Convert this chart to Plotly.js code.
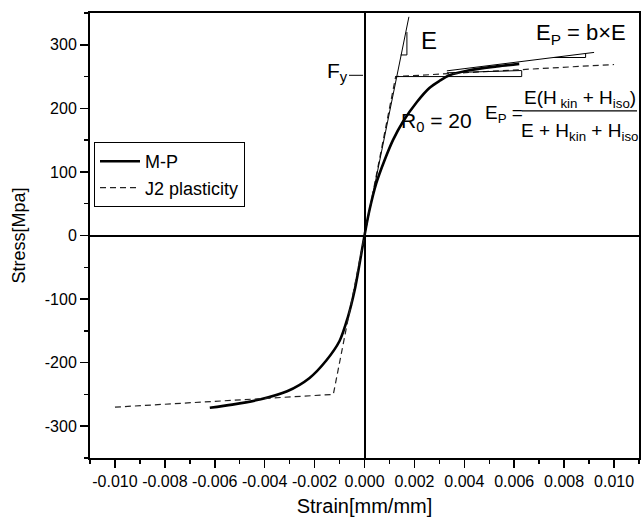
<!DOCTYPE html>
<html>
<head>
<meta charset="utf-8">
<script src="https://cdn.plot.ly/plotly-3.0.1.min.js"></script>
<style>html,body{margin:0;padding:0;background:#fff;}#chart{width:644px;height:517px;}</style>
</head>
<body>
<div id="chart"></div>
<script>
// M-P curve
const mpStrain = [-0.0062, -0.0053, -0.0042, -0.0031, -0.0022, -0.00154, -0.0010, -0.00067, -0.0004, -0.0002, 0,
                  0.0002, 0.00047, 0.0008, 0.00114, 0.00154, 0.0021, 0.0026, 0.0030, 0.0034, 0.0042, 0.0053, 0.0062];
const mpStress = [-271, -266, -258, -245, -224, -197, -166, -129, -87, -45, 0,
                  40, 82, 118, 150, 179, 210, 232, 243, 252, 260, 266, 270];
// J2 plasticity (bilinear)
const j2Strain = [-0.010, -0.00125, 0.00125, 0.010];
const j2Stress = [-270, -250, 250, 269];
// thin construction lines (null separates segments)
const guideStrain = [0, 0.00178, null,
                     0.00145, 0.0017, 0.0017, null,
                     0.00125, 0.0063, 0.0063, null,
                     0.0033, 0.0063, null,
                     0.0033, 0.0092, null,
                     0.0076, 0.00886, 0.00886, null,
                     -0.00062, -0.00006];
const guideStress = [0, 344, null,
                     284, 284, 320, null,
                     250, 250, 259, null,
                     256, 259.5, null,
                     259, 288, null,
                     280, 280, 286, null,
                     252, 252];
// fraction bar of the E_P formula
const barStrain = [0.0063, 0.01092];
const barStress = [196, 196];

const xTickVals = [-0.010, -0.008, -0.006, -0.004, -0.002, 0, 0.002, 0.004, 0.006, 0.008, 0.010];
const xTickText = ['-0.010', '-0.008', '-0.006', '-0.004', '-0.002', '0.000', '0.002', '0.004', '0.006', '0.008', '0.010'];
const yTickVals = [-300, -200, -100, 0, 100, 200, 300];
const yTickText = ['-300', '-200', '-100', '0', '100', '200', '300'];

const FONT = 'Liberation Sans, Arial, Helvetica, sans-serif';

const traces = [
  {x: mpStrain, y: mpStress, mode: 'lines', name: 'M-P',
   line: {color: '#000', width: 2.6, shape: 'spline', smoothing: 0.8}},
  {x: j2Strain, y: j2Stress, mode: 'lines', name: 'J2 plasticity',
   line: {color: '#222', width: 1.2, dash: '6px,4px'}},
  {x: guideStrain, y: guideStress, mode: 'lines', showlegend: false, connectgaps: false,
   line: {color: '#000', width: 1}},
  {x: barStrain, y: barStress, mode: 'lines', showlegend: false,
   line: {color: '#000', width: 1.2}}
];

const ann = (x, y, text, size) => ({x: x, y: y, xref: 'x', yref: 'y', text: text, showarrow: false,
  font: {family: FONT, size: size, color: '#000'}, xanchor: 'center', yanchor: 'middle'});

const layout = {
  width: 644, height: 517,
  margin: {l: 90, r: 5, t: 13, b: 59},
  paper_bgcolor: '#fff', plot_bgcolor: '#fff',
  font: {family: FONT, color: '#000'},
  showlegend: true,
  legend: {x: 0.0073, y: 0.71, xanchor: 'left', yanchor: 'top',
           bordercolor: '#000', borderwidth: 1, bgcolor: '#fff',
           font: {family: FONT, size: 18, color: '#000'},
           tracegroupgap: 0, itemwidth: 40},
  xaxis: {range: [-0.011, 0.011], tickvals: xTickVals, ticktext: xTickText,
          ticks: 'outside', ticklen: 8, tickwidth: 1.5, tickcolor: '#000',
          minor: {ticks: 'outside', ticklen: 4, tickwidth: 1.5, tickcolor: '#000', dtick: 0.001, tick0: 0, showgrid: false},
          showline: true, linecolor: '#000', linewidth: 2, mirror: true,
          showgrid: false, zeroline: true, zerolinecolor: '#000', zerolinewidth: 2,
          tickfont: {family: FONT, size: 16, color: '#000'},
          title: {text: 'Strain[mm/mm]', font: {family: FONT, size: 20, color: '#000'}, standoff: 10}},
  yaxis: {range: [-350, 350], tickvals: yTickVals, ticktext: yTickText,
          ticks: 'outside', ticklen: 8, tickwidth: 1.5, tickcolor: '#000',
          minor: {ticks: 'outside', ticklen: 4, tickwidth: 1.5, tickcolor: '#000', dtick: 50, tick0: 0, showgrid: false},
          showline: true, linecolor: '#000', linewidth: 2, mirror: true,
          showgrid: false, zeroline: true, zerolinecolor: '#000', zerolinewidth: 2,
          tickfont: {family: FONT, size: 16, color: '#000'},
          title: {text: 'Stress[Mpa]', font: {family: FONT, size: 18, color: '#000'}, standoff: 14}},
  annotations: [
    ann(0.0026, 307, 'E', 24),
    ann(0.00866, 317, 'E<sub>P</sub> = b×E', 22),
    ann(-0.0011, 257, 'F<sub>y</sub>', 21),
    ann(0.0029, 179, 'R<sub>0</sub> = 20', 21),
    ann(0.0056, 191, 'E<sub>P</sub> =', 19),
    ann(0.00862, 214, 'E(H<sub> kin</sub> + H<sub>iso</sub>)', 19),
    ann(0.00862, 163, 'E + H<sub>kin</sub> + H<sub>iso</sub>', 19)
  ]
};

Plotly.newPlot('chart', traces, layout, {displayModeBar: false, staticPlot: true});
</script>
</body>
</html>
